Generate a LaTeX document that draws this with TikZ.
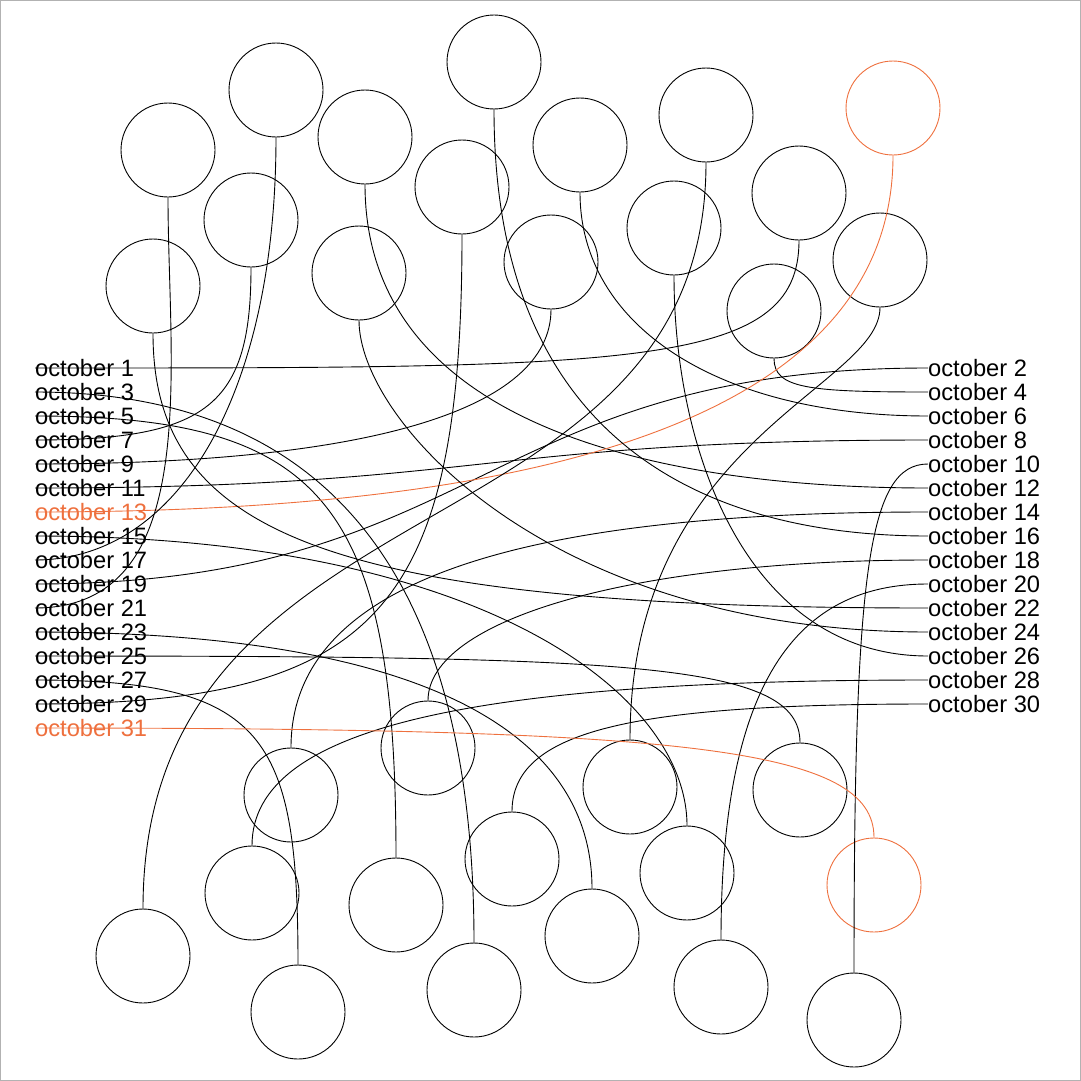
\documentclass[tikz,border=0pt]{standalone}
\usepackage{fontspec}
\setmainfont{Liberation Sans}
\definecolor{hl}{RGB}{238,112,62}
\begin{document}
\begin{tikzpicture}[x=1pt,y=-1pt,
  dot/.style={circle,draw,line width=0.9pt,minimum size=94pt,inner sep=0pt},
  lab/.style={anchor=west,inner sep=0pt,font=\fontsize{23.7}{28}\selectfont},
  edge/.style={line width=0.9pt},
  hot/.style={draw=hl,text=hl,color=hl}]
\useasboundingbox (0,0) rectangle (1081,1081);
\draw[gray!60,line width=0.8pt] (0.5,0.5) rectangle (1080.5,1080.5);
% top circles
\node[dot] (c1) at (168,150) {};
\node[dot] (c2) at (276,90) {};
\node[dot] (c3) at (251,220) {};
\node[dot] (c4) at (153,286) {};
\node[dot] (c5) at (365,137) {};
\node[dot] (c6) at (494,62) {};
\node[dot] (c7) at (462,187) {};
\node[dot] (c8) at (359,273) {};
\node[dot] (c9) at (580,145) {};
\node[dot] (c10) at (551,262) {};
\node[dot] (c11) at (706,115) {};
\node[dot] (c12) at (674,228) {};
\node[dot] (c13) at (799,193) {};
\node[dot] (c14) at (880,260) {};
\node[dot] (c15) at (774,311) {};
\node[dot,hot] (c16) at (893,108) {};
% bottom circles
\node[dot] (c17) at (428,748) {};
\node[dot] (c18) at (291,795) {};
\node[dot] (c19) at (252,893) {};
\node[dot] (c20) at (143,956) {};
\node[dot] (c21) at (298,1012) {};
\node[dot] (c22) at (396,905) {};
\node[dot] (c23) at (512,859) {};
\node[dot] (c24) at (474,990) {};
\node[dot] (c25) at (592,936) {};
\node[dot] (c26) at (630,787) {};
\node[dot] (c27) at (687,873) {};
\node[dot] (c28) at (800,790) {};
\node[dot,hot] (c29) at (874,885) {};
\node[dot] (c30) at (721,987) {};
\node[dot] (c31) at (854,1020) {};
% labels
\foreach \i/\y in {1/368,3/392,5/416,7/440,9/464,11/488,15/536,17/560,19/584,21/608,23/632,25/656,27/680,29/704}
  \node[lab] (l\i) at (35,\y) {october \i};
\node[lab,text=hl] (l13) at (35,512) {october 13};
\node[lab,text=hl] (l31) at (35,728) {october 31};
\foreach \i/\y in {2/368,4/392,6/416,8/440,10/464,12/488,14/512,16/536,18/560,20/584,22/608,24/632,26/656,28/680,30/704}
  \node[lab] (l\i) at (928,\y) {october \i};
% edges
\draw[edge] (l1.west) .. controls +(600,0) and +(0,128) .. (c13.south);
\draw[edge] (l19.west) .. controls +(446,0) and +(-446,0) .. (l2.west);
\draw[edge] (l3.west) .. controls +(293,0) and +(0,-367) .. (c24.north);
\draw[edge] (c15.south) .. controls +(0,30) and +(-120,0) .. (l4.west);
\draw[edge] (l5.west) .. controls +(289,0) and +(0,-354) .. (c22.north);
\draw[edge] (c9.south) .. controls +(0,134) and +(-209,0) .. (l6.west);
\draw[edge] (l7.west) .. controls +(173,0) and +(0,138) .. (c3.south);
\draw[edge] (l11.west) .. controls +(446,0) and +(-446,0) .. (l8.west);
\draw[edge] (l9.west) .. controls +(335,0) and +(0,100) .. (c10.south);
\draw[edge] (c31.north) .. controls +(0,-400) and +(-60,0) .. (l10.west);
\draw[edge] (c5.south) .. controls +(0,250) and +(-250,0) .. (l12.west);
\draw[edge,hl] (l13.west) .. controls +(400,0) and +(0,300) .. (c16.south);
\draw[edge] (c18.north) .. controls +(0,-170) and +(-400,0) .. (l14.west);
\draw[edge] (l15.west) .. controls +(450,0) and +(0,-130) .. (c27.north);
\draw[edge] (c6.south) .. controls +(0,350) and +(-200,0) .. (l16.west);
\draw[edge] (l17.west) .. controls +(145,0) and +(0,254) .. (c2.south);
\draw[edge] (c17.north) .. controls +(0,-80) and +(-300,0) .. (l18.west);
\draw[edge] (c30.north) .. controls +(0,-260) and +(-130,0) .. (l20.west);
\draw[edge] (l21.west) .. controls +(169,0) and +(0,169) .. (c1.south);
\draw[edge] (c4.south) .. controls +(0,200) and +(-600,0) .. (l22.west);
\draw[edge] (l23.west) .. controls +(380,0) and +(0,-160) .. (c25.north);
\draw[edge] (c8.south) .. controls +(0,100) and +(-380,0) .. (l24.west);
\draw[edge] (l25.west) .. controls +(600,0) and +(0,-80) .. (c28.north);
\draw[edge] (c12.south) .. controls +(0,179) and +(-179,0) .. (l26.west);
\draw[edge] (l27.west) .. controls +(230,0) and +(0,-230) .. (c21.north);
\draw[edge] (c19.north) .. controls +(0,-120) and +(-450,0) .. (l28.west);
\draw[edge] (l29.west) .. controls +(342,0) and +(0,376) .. (c7.south);
\draw[edge] (c23.north) .. controls +(0,-80) and +(-300,0) .. (l30.west);
\draw[edge,hl] (l31.west) .. controls +(650,0) and +(0,-90) .. (c29.north);
\draw[edge] (c11.south) .. controls +(0,400) and +(0,-440) .. (c20.north);
\draw[edge] (c14.south) .. controls +(0,80) and +(0,-300) .. (c26.north);
\end{tikzpicture}
\end{document}
